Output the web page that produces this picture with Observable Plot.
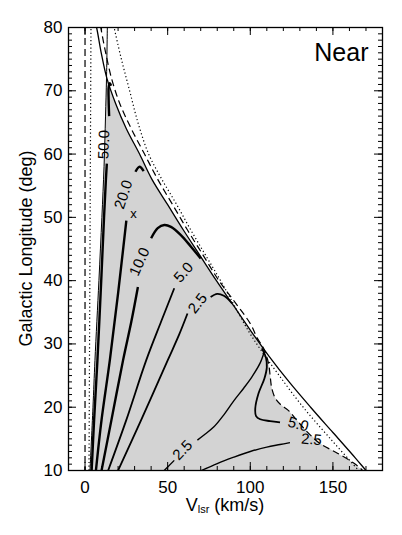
<!DOCTYPE html>
<html><head><meta charset="utf-8">
<script src="https://cdn.jsdelivr.net/npm/d3@7"></script>
<script src="https://cdn.jsdelivr.net/npm/@observablehq/plot@0.6"></script>
<style>body{margin:0;background:#fff}</style>
</head><body><div id="chart"></div>
<script>
// ---------- data ----------
const xTicks = [0, 50, 100, 150];
const yTicks = [10, 20, 30, 40, 50, 60, 70, 80];

// terminal-velocity boundary (solid)
const solidL = [82, 80, 76, 72, 68, 64, 60, 56, 52, 48, 44, 40, 36, 32, 28, 24, 20, 16, 12, 10, 8.5];
const solidV = [5, 7, 9.8, 13.2, 18.5, 25, 33, 40.5, 50, 59.5, 69.5, 79.5, 90, 100.5, 111.5, 123.5, 136.5, 150, 163.5, 170, 175];

// dashed curve
const dashL = [82, 80, 76, 72, 68, 64, 60, 56, 52, 48, 44, 40, 36.5, 33, 31, 30, 29, 27, 25, 23, 21.5, 20.5, 19.5, 18, 16.5, 14.3, 12.7, 11.1, 10, 9];
const dashV = [8, 9.5, 12.5, 16, 21, 28, 36, 44, 53, 62, 71.5, 81, 91, 100.5, 104, 106.5, 108.5, 111, 112, 113, 115, 118, 123, 128, 133, 142, 153, 163, 168, 171];

// dotted curve
const dotL = [82, 80, 75, 70, 65, 60, 56, 52, 48, 44, 40, 36, 32, 29, 25, 20, 15, 10, 8.5];
const dotV = [16, 17.6, 22, 27, 32, 38.5, 46.5, 55.5, 64, 73, 82, 90.5, 99, 106.5, 117.5, 132, 148.5, 165.5, 170];

// thin left edge of the shaded region
const leftL = [10, 20, 27.4, 40, 50, 58, 66, 72, 80];
const leftV = [3, 4.8, 6, 8.4, 10.2, 11.5, 12.4, 13, 13.5];

// dotted near-vertical line on the left
const dotLeftL = [10, 80];
const dotLeftV = [2.4, 3.6];

// contours
const c50aL = [10, 18, 27.4, 40, 50, 55.8, 58.5];
const c50aV = [4, 5.5, 7.5, 9.8, 11.5, 12.6, 13.2];
const c50bL = [66, 68.5, 70.5, 71.2, 70.8];
const c50bV = [14.6, 14.3, 14.3, 15, 15.8];

const c20aL = [10, 18, 27.4, 38, 49.5];
const c20aV = [6.6, 10, 15, 20, 25];
const c20bL = [57.2, 58, 57.3];
const c20bV = [30.5, 33, 35.5];

const c10aL = [10, 18, 27.4, 33.5, 39];
const c10aV = [10, 16, 23, 28, 32];
const c10bL = [46.7, 48.3, 48.8, 48.5, 47.2, 45.4, 43.5];
const c10bV = [40, 44, 48, 52, 58, 64, 70];

const c5aL = [10, 18, 27.4, 33.5, 38.8];
const c5aV = [14, 25, 37, 46, 54];

const c25aL = [10, 18, 27.4, 31.5, 34.8];
const c25aV = [20, 34, 50, 57, 62];
const c25bL = [37.4, 37.9, 37.6, 36.4];
const c25bV = [76, 80, 84, 89];

// lower "2.5" contour rising to the notch
const c25cL = [9.5, 11.6];
const c25cV = [46, 54];
const c25dL = [14.8, 15.6, 16.9, 18.8, 21.0, 23.0, 24.8, 27.0, 28.8];
const c25dV = [68, 72, 78, 84, 90, 96, 101, 106, 108.5];

// bottom "2.5" contour
const c25eL = [9.7, 11.1, 12.1, 13.0, 13.7, 14.1, 14.4];
const c25eV = [68, 80, 90, 100, 110, 118, 124];

// right "5.0" contour in the notch
const c5bL = [29.3, 27.8, 26.3, 24.5, 22.2, 19.8, 18.6, 18.1, 17.8, 17.6];
const c5bV = [107, 109.5, 110, 108.5, 105, 103, 103.5, 106, 112, 118];

// contour labels
const labelText = ["50.0", "20.0", "10.0", "5.0", "2.5", "2.5", "5.0", "2.5"];
const labelV = [11.5, 23.3, 33, 59.6, 68.1, 59, 129, 137];
const labelL = [61.5, 53.6, 43.0, 41.3, 36.4, 13.2, 17.3, 14.9];
const labelAngle = [-88, -72, -66, -48, -52, -46, 15, 5];

const markerV = [29.3];
const markerL = [50.6];
const panelTitle = "Near";

// ---------- layout ----------
const W = 402, H = 535;
const mL = 68, mR = 20, mT = 27, mB = 65;
const innerW = W - mL - mR, innerH = H - mT - mB;
const FONT = "'Liberation Sans', Arial, Helvetica, sans-serif";

const P = (vs, ls) => vs.map((v, i) => ({v, l: ls[i]}));
const ln = (vs, ls, o) => Plot.line(P(vs, ls), {x: "v", y: "l", clip: true, curve: "catmull-rom", stroke: "black", strokeLinecap: "butt", ...o});

// shaded polygon: left edge up to vertex, down terminal curve to notch, then dashed curve
const vertexL = 72, notchL = 29.2;
const poly = [
  ...P(leftV, leftL).filter(d => d.l <= vertexL),
  ...P(solidV, solidL).filter(d => d.l < vertexL && d.l >= notchL),
  ...P(dashV, dashL).filter(d => d.l < notchL && d.l >= 10)
];

const labels = labelText.map((t, i) => ({t, v: labelV[i], l: labelL[i], a: labelAngle[i]}));

const xMinor = d3.range(-10, 181, 10);
const yMinor = d3.range(10, 81, 1);

const chart = Plot.plot({
  width: W, height: H,
  marginLeft: mL, marginRight: mR, marginTop: mT, marginBottom: mB,
  x: {domain: [-10, 180]},
  y: {domain: [10, 80]},
  style: {fontFamily: FONT, background: "white", color: "black"},
  marks: [
    Plot.line(poly, {x: "v", y: "l", fill: "#d3d3d3", stroke: "none", clip: true}),
    Plot.ruleX([0], {stroke: "black", strokeWidth: 1.2, strokeDasharray: "7,4"}),
    ln(dotLeftV, dotLeftL, {strokeWidth: 1.2, strokeDasharray: "1.2,2.5", curve: "linear"}),
    ln(leftV, leftL, {strokeWidth: 1}),
    ln(solidV, solidL, {strokeWidth: 1.3}),
    ln(dashV, dashL, {strokeWidth: 1.2, strokeDasharray: "7,4"}),
    ln(dotV, dotL, {strokeWidth: 1.2, strokeDasharray: "1.2,2.5"}),
    ln(c50aV, c50aL, {strokeWidth: 2.4}),
    ln(c50bV, c50bL, {strokeWidth: 2.4}),
    ln(c20aV, c20aL, {strokeWidth: 2.4}),
    ln(c20bV, c20bL, {strokeWidth: 2.4}),
    ln(c10aV, c10aL, {strokeWidth: 2.4}),
    ln(c10bV, c10bL, {strokeWidth: 2.4}),
    ln(c5aV, c5aL, {strokeWidth: 1.8}),
    ln(c25aV, c25aL, {strokeWidth: 1.8}),
    ln(c25bV, c25bL, {strokeWidth: 1.8}),
    ln(c25cV, c25cL, {strokeWidth: 1.4}),
    ln(c25dV, c25dL, {strokeWidth: 1.4}),
    ln(c25eV, c25eL, {strokeWidth: 1.4}),
    ln(c5bV, c5bL, {strokeWidth: 1.8}),
    Plot.text(labels, {x: "v", y: "l", text: "t", rotate: "a", fontSize: 15, fill: "black"}),
    Plot.text(P(markerV, markerL), {x: "v", y: "l", text: () => "x", fontSize: 13, fill: "black"}),
    Plot.text([panelTitle], {frameAnchor: "top-right", textAnchor: "end", lineAnchor: "bottom", dx: -14, dy: 33, fontSize: 25, fill: "black"}),
    // inward ticks on all four sides
    Plot.tickX(xMinor, {x: d => d, insetBottom: innerH - 4, stroke: "black"}),
    Plot.tickX(xMinor, {x: d => d, insetTop: innerH - 4, stroke: "black"}),
    Plot.tickX(xTicks, {x: d => d, insetBottom: innerH - 8, stroke: "black"}),
    Plot.tickX(xTicks, {x: d => d, insetTop: innerH - 8, stroke: "black"}),
    Plot.tickY(yMinor, {y: d => d, insetRight: innerW - 4, stroke: "black"}),
    Plot.tickY(yMinor, {y: d => d, insetLeft: innerW - 4, stroke: "black"}),
    Plot.tickY(yTicks, {y: d => d, insetRight: innerW - 8, stroke: "black"}),
    Plot.tickY(yTicks, {y: d => d, insetLeft: innerW - 8, stroke: "black"}),
    Plot.frame({stroke: "black", strokeWidth: 1.3}),
    Plot.axisX(xTicks, {tickSize: 0, tickPadding: 10, label: null, fontSize: 17}),
    Plot.axisY(yTicks, {tickSize: 0, tickPadding: 6, label: null, fontSize: 17})
  ]
});

const svg = d3.select(chart);
svg.append("text")
  .attr("transform", `translate(31.5, ${mT + innerH / 2}) rotate(-90)`)
  .attr("text-anchor", "middle")
  .attr("font-size", 18).attr("font-family", FONT).attr("fill", "black")
  .text("Galactic Longitude (deg)");
const xt = svg.append("text")
  .attr("x", mL + innerW / 2).attr("y", 511)
  .attr("text-anchor", "middle")
  .attr("font-size", 18).attr("font-family", FONT).attr("fill", "black");
xt.append("tspan").text("V");
xt.append("tspan").attr("font-size", 11).attr("dy", 2).text("lsr");
xt.append("tspan").attr("dy", -2).text(" (km/s)");

document.getElementById("chart").appendChild(chart);
</script>
</body></html>
